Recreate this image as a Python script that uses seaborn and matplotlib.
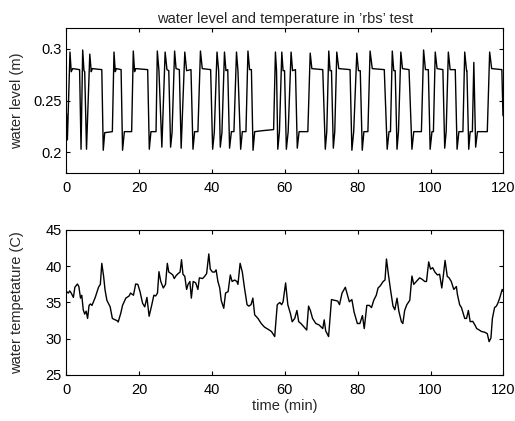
import matplotlib
matplotlib.use("Agg")
import matplotlib.pyplot as plt
import seaborn as sns
import pandas as pd

# ---- data ----
level_t = [0.0, 0.25, 0.96, 1.3, 1.7, 3.6, 4.0, 4.45, 4.8, 5.0, 5.5, 6.4, 6.8, 7.1, 9.7, 10.1, 10.5, 12.6,
           13.05, 13.4, 13.7, 15.0, 15.4, 15.9, 17.9, 18.35, 18.7, 19.0, 22.3, 22.75, 23.2, 24.6,
           24.95, 25.4, 26.2, 27.1, 27.6, 28.1, 28.6, 29.0, 29.7, 30.1, 31.0, 31.5, 32.5, 33.0, 34.2,
           34.75, 35.2, 36.1, 36.8, 37.3, 39.6, 40.15, 40.6, 41.35, 41.8, 42.25, 42.7, 43.4, 43.8, 44.3,
           44.8, 45.3, 46.0, 46.7, 47.1, 47.85, 48.3, 49.3, 49.85, 50.3, 50.8, 51.25, 51.7, 54.0, 56.9,
           57.4, 57.7, 58.05, 58.5, 59.15, 59.5, 59.9, 60.4, 60.9, 61.7, 62.1, 62.9, 63.4, 63.9, 66.3,
           66.95, 67.4, 70.4, 71.1, 71.5, 72.05, 72.4, 72.8, 73.3, 73.7, 74.25, 74.8, 77.9, 78.4, 78.9,
           79.75, 80.2, 80.7, 81.25, 81.7, 82.8, 83.4, 84.0, 87.3, 88.1, 88.6, 89.0, 89.5, 89.9, 90.3,
           90.8, 91.2, 91.85, 92.3, 94.1, 94.9, 95.4, 97.5, 98.1, 98.6, 99.4, 99.9, 100.4, 100.8, 101.3,
           101.8, 103.4, 103.9, 104.3, 104.9, 105.4, 106.8, 107.3, 107.8, 108.9, 109.4, 109.9, 110.0,
           110.5, 110.9, 111.5, 111.9, 112.4, 112.9, 115.6, 116.25, 116.8, 119.6, 119.9, 120.0]
level_m = [0.238, 0.212, 0.297, 0.278, 0.281, 0.280, 0.203, 0.299, 0.279, 0.278, 0.203, 0.295, 0.278, 0.281,
           0.280, 0.202, 0.219, 0.220, 0.297, 0.278, 0.281, 0.280, 0.202, 0.220, 0.220, 0.298, 0.278,
           0.281, 0.280, 0.203, 0.220, 0.220, 0.298, 0.279, 0.205, 0.297, 0.280, 0.279, 0.205, 0.219,
           0.298, 0.281, 0.280, 0.204, 0.297, 0.279, 0.280, 0.203, 0.220, 0.220, 0.298, 0.281, 0.280,
           0.203, 0.219, 0.297, 0.279, 0.205, 0.219, 0.297, 0.279, 0.280, 0.204, 0.220, 0.220, 0.297,
           0.279, 0.203, 0.220, 0.220, 0.298, 0.280, 0.280, 0.202, 0.220, 0.221, 0.222, 0.297, 0.279,
           0.203, 0.220, 0.297, 0.279, 0.279, 0.203, 0.220, 0.297, 0.279, 0.280, 0.204, 0.220, 0.220,
           0.296, 0.281, 0.280, 0.203, 0.220, 0.298, 0.279, 0.279, 0.204, 0.220, 0.297, 0.281, 0.280,
           0.202, 0.220, 0.296, 0.279, 0.279, 0.202, 0.220, 0.220, 0.298, 0.281, 0.280, 0.203, 0.220,
           0.220, 0.298, 0.279, 0.279, 0.203, 0.220, 0.297, 0.281, 0.280, 0.203, 0.220, 0.220, 0.299,
           0.280, 0.280, 0.203, 0.220, 0.220, 0.297, 0.281, 0.280, 0.204, 0.220, 0.297, 0.280, 0.280,
           0.203, 0.220, 0.220, 0.297, 0.279, 0.279, 0.203, 0.220, 0.220, 0.287, 0.205, 0.220, 0.220,
           0.297, 0.281, 0.280, 0.236, 0.235]

temp_t = [0.05, 0.5, 0.9, 1.3, 1.9, 2.3, 3.0, 3.4, 3.85, 4.2, 4.6, 5.0, 5.4, 5.8, 6.2, 6.6, 7.0, 7.9, 8.8,
          9.3, 9.7, 10.2, 10.6, 11.1, 12.0, 12.6, 13.4, 13.9, 14.2, 14.9, 15.4, 16.3, 17.2, 17.6, 18.4,
          19.0, 19.6, 20.2, 20.9, 21.5, 22.1, 22.7, 23.4, 24.0, 24.5, 25.0, 25.4, 25.9, 26.6, 27.2, 27.7,
          28.1, 28.7, 29.2, 29.6, 30.1, 30.7, 31.2, 31.6, 32.0, 32.5, 33.0, 33.4, 33.9, 34.3, 34.8,
          35.5, 36.1, 36.5, 37.4, 38.1, 38.5, 39.1, 39.5, 40.1, 40.7, 41.1, 41.6, 42.1, 42.5, 43.2,
          43.7, 44.4, 45.0, 45.5, 46.2, 46.8, 47.1, 47.7, 48.3, 48.9, 49.6, 50.1, 50.7, 51.2, 51.7,
          52.6, 53.5, 54.4, 55.4, 56.3, 57.2, 57.9, 58.6, 59.1, 59.5, 60.2, 60.8, 61.5, 62.0, 62.7,
          63.3, 63.8, 64.4, 65.3, 66.0, 66.5, 67.0, 67.6, 68.5, 69.4, 70.4, 70.8, 71.2, 72.0, 72.8,
          73.6, 74.5, 75.0, 75.7, 76.6, 77.3, 77.7, 78.4, 79.0, 79.9, 80.6, 81.3, 81.8, 82.5, 83.2,
          83.8, 84.4, 85.1, 85.6, 86.2, 87.0, 87.5, 87.9, 88.4, 89.0, 89.7, 90.2, 90.8, 91.3, 92.0,
          92.4, 92.9, 93.5, 94.3, 94.9, 95.4, 96.1, 97.0, 97.7, 98.4, 98.9, 99.5, 100.0, 100.6,
          101.2, 101.9, 102.5, 103.1, 103.5, 104.0, 104.6, 105.1, 105.7, 106.4, 107.1, 107.4, 108.0,
          108.5, 109.4, 109.9, 110.4, 110.9, 111.6, 112.2, 112.7, 113.4, 114.0, 114.9, 115.6, 116.1,
          116.6, 117.0, 117.6, 118.1, 118.5, 119.0, 119.4, 119.7, 120.0]
temp_c = [36.5, 36.3, 36.6, 36.3, 35.7, 37.1, 37.55, 37.2, 35.6, 36.0, 34.0, 33.4, 33.8, 32.8, 34.6, 34.8,
          34.6, 35.7, 37.1, 37.5, 40.4, 38.6, 36.7, 35.3, 34.4, 32.8, 32.6, 32.5, 32.3, 33.5, 34.6, 35.6,
          35.9, 36.3, 36.0, 37.55, 37.5, 36.5, 34.9, 34.4, 35.7, 33.1, 34.6, 36.0, 35.9, 36.3, 39.25,
          37.9, 37.0, 37.5, 40.4, 39.2, 39.0, 38.8, 38.3, 38.7, 39.0, 39.2, 40.9, 38.9, 38.6, 36.8,
          37.5, 37.9, 35.6, 37.9, 37.7, 36.8, 38.4, 38.3, 38.7, 39.0, 41.7, 39.6, 39.2, 39.2, 39.5,
          37.9, 37.0, 35.3, 34.2, 36.3, 36.5, 38.8, 37.9, 38.1, 37.9, 37.5, 40.4, 39.2, 37.0, 34.7, 34.5,
          34.7, 35.6, 33.3, 32.8, 32.1, 31.6, 31.3, 31.0, 30.3, 34.7, 35.0, 34.7, 35.1, 37.7, 34.7, 33.5,
          32.35, 32.8, 33.9, 32.35, 32.1, 31.6, 31.2, 34.5, 33.9, 32.8, 32.1, 31.9, 31.4, 32.6, 31.1,
          30.3, 35.4, 35.3, 35.2, 34.7, 36.3, 37.1, 35.8, 35.1, 35.4, 33.7, 32.1, 32.1, 33.2, 31.4,
          34.6, 34.6, 34.3, 35.3, 36.0, 37.0, 37.3, 37.9, 38.1, 41.0, 39.0, 36.8, 34.5, 34.0, 35.6,
          33.8, 32.35, 32.1, 33.9, 34.7, 35.3, 38.65, 37.5, 37.9, 38.4, 38.2, 37.9, 37.9, 40.6, 39.6,
          39.8, 39.2, 38.8, 38.9, 37.0, 38.6, 40.8, 38.6, 38.4, 37.9, 36.8, 37.2, 36.1, 34.7, 34.3,
          32.8, 32.8, 33.9, 32.35, 32.4, 31.9, 31.4, 31.2, 31.0, 30.9, 30.7, 29.6, 30.1, 32.8, 34.3,
          34.5, 34.9, 35.6, 36.3, 36.8, 36.5]

x_ticks = [0, 20, 40, 60, 80, 100, 120]
level_ticks = [0.2, 0.25, 0.3]
level_tick_labels = ["0.2", "0.25", "0.3"]
temp_ticks = [25, 30, 35, 40, 45]

title = "water level and temperature in \u2019rbs\u2019 test"

# ---- styling ----
sns.set_theme(style="ticks")
plt.rcParams.update({
    "font.family": ["Liberation Sans", "DejaVu Sans"],
    "font.size": 10.5,
    "axes.linewidth": 0.8,
    "axes.edgecolor": "black",
    "xtick.direction": "in",
    "ytick.direction": "in",
    "xtick.top": True,
    "ytick.right": True,
    "xtick.major.size": 3.0,
    "ytick.major.size": 3.0,
    "xtick.major.width": 0.8,
    "ytick.major.width": 0.8,
    "xtick.major.pad": 6.0,
    "ytick.major.pad": 3.5,
    "xtick.labelsize": 10.5,
    "ytick.labelsize": 10.5,
    "xtick.color": "black",
    "ytick.color": "black",
})

fig = plt.figure(figsize=(5.15, 4.21), dpi=100)
ax1 = fig.add_axes([0.1291, 0.5891, 0.8482, 0.3437])
ax2 = fig.add_axes([0.1291, 0.1093, 0.8482, 0.3444])

df_level = pd.DataFrame({"time": level_t, "level": level_m})
df_temp = pd.DataFrame({"time": temp_t, "temp": temp_c})

sns.lineplot(data=df_level, x="time", y="level", ax=ax1, color="black",
             linewidth=1.0, sort=False, estimator=None)
sns.lineplot(data=df_temp, x="time", y="temp", ax=ax2, color="black",
             linewidth=1.0, sort=False, estimator=None)

ax1.set_xlim(0, 120)
ax1.set_ylim(0.18, 0.32)
ax1.set_xticks(x_ticks)
ax1.set_xticklabels([str(v) for v in x_ticks])
ax1.set_yticks(level_ticks)
ax1.set_yticklabels(level_tick_labels)
ax1.set_xlabel("")
ax1.set_ylabel("water level (m)", fontsize=10.5)
ax1.yaxis.set_label_coords(-0.097, 0.5)
ax1.set_title(title, fontsize=10.5, pad=4)

ax2.set_xlim(0, 120)
ax2.set_ylim(25, 45)
ax2.set_xticks(x_ticks)
ax2.set_xticklabels([str(v) for v in x_ticks])
ax2.set_yticks(temp_ticks)
ax2.set_yticklabels([str(v) for v in temp_ticks])
ax2.set_xlabel("time (min)", fontsize=10.5, labelpad=1.5)
ax2.set_ylabel("water tempetature (C)", fontsize=10.5)
ax2.yaxis.set_label_coords(-0.097, 0.5)

for ax in (ax1, ax2):
    for s in ax.spines.values():
        s.set_visible(True)
        s.set_color("black")
        s.set_linewidth(0.8)

fig.savefig("out.png", dpi=100, facecolor="white")
